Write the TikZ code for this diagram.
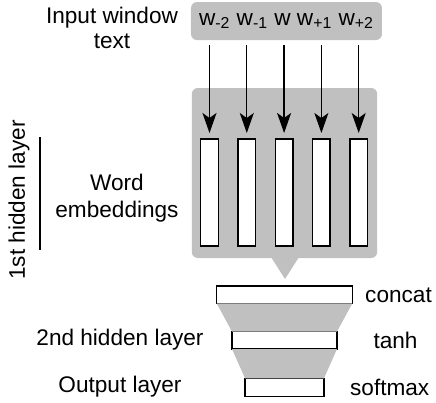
\documentclass[tikz,border=0pt]{standalone}
\usepackage{fontspec}
\setmainfont{Liberation Sans}
\usetikzlibrary{arrows.meta,positioning,calc}
\definecolor{panelgray}{RGB}{192,192,192}

\begin{document}
\begin{tikzpicture}
[x=0.5pt,y=-0.5pt%
,every node/.style={font=\fontsize{11.3}{13.5}\selectfont,%
                    inner sep=0pt,%
                    outer sep=0pt}%
,panel/.style={fill=panelgray,%
               rounded corners=3pt}%
,unit/.style={draw=black,%
              fill=white,%
              line width=0.7pt}%
,emb/.style={unit,%
             minimum width=8.75pt,%
             minimum height=53.5pt}%
,layer/.style={unit,%
               minimum height=8.7pt}%
,arr/.style={-{Stealth[length=10pt,width=7pt,inset=2.5pt]},%
             line width=0.7pt}%
,label/.style={align=center}]
\useasboundingbox (0,0) rectangle (436,403);

% input window
\node[panel,minimum width=95.5pt,minimum height=19pt] (inp) at (286.5,21)
  {w\textsubscript{-2} w\textsubscript{-1} w w\textsubscript{+1} w\textsubscript{+2}};
\node[label] (inplab) at (112,28) {Input window\\[-1pt]text};

% 1st hidden layer: embeddings
\node[panel,minimum width=92.7pt,minimum height=85pt] (hid) at (284.5,173) {};
\fill[panelgray] (271,257) -- (299,257) -- (285,279) -- cycle;
\foreach \i in {1,...,5}
  \node[emb] (e\i) at ({209.5+37.3*(\i-1)},192.5) {};
\foreach \i in {1,...,5}
  \draw[arr] ($(e\i.north |- inp.south)+(0,5)$) -- ($(e\i.north)+(0,-6)$);
\node[label] (emblab) at (117,198) {Word\\[0pt]embeddings};
\node[rotate=90] (hidlab) at (19,200) {1st hidden layer};
\coordinate (bartop) at (40,137);
\coordinate (barbot) at (40,250);
\draw[line width=0.6pt] (bartop) -- (barbot);

% concat, tanh, softmax
\node[layer,minimum width=67.8pt] (cat) at (284.5,294.7) {};
\node[layer,minimum width=52.5pt] (hid2) at (284.5,340.3) {};
\node[layer,minimum width=39.5pt,minimum height=9.2pt] (out) at (284.5,387.5) {};
\fill[panelgray] (cat.south west) -- (cat.south east) -- (hid2.north east) -- (hid2.north west) -- cycle;
\fill[panelgray] (hid2.south west) -- (hid2.south east) -- (out.north east) -- (out.north west) -- cycle;

\node (catlab) at (398.5,295) {concat};
\node (tanhlab) at (395.5,340) {tanh};
\node (smlab) at (389.7,387) {softmax};
\node (hid2lab) at (120,340) {2nd hidden layer};
\node (outlab) at (120,387) {Output layer};
\end{tikzpicture}
\end{document}
